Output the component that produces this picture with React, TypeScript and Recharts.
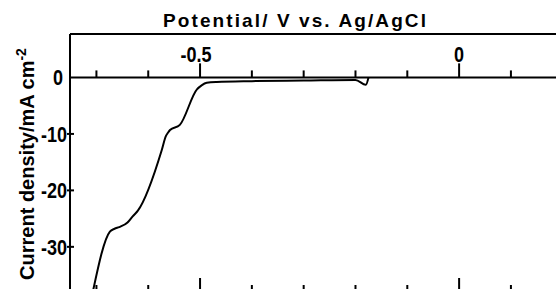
import React from 'react';
import { LineChart, Line, XAxis, YAxis, ReferenceLine } from 'recharts';

// potential (V vs. Ag/AgCl) and current density (mA cm-2)
const potential = [
  -0.707, -0.674, -0.665, -0.656, -0.640, -0.630, -0.620, -0.574, -0.566, -0.562,
  -0.558, -0.539, -0.506, -0.497, -0.487, -0.468, -0.40, -0.30, -0.20, -0.18, -0.175,
];
const current = [
  -38.0, -27.3, -26.8, -26.5, -25.7, -24.6, -23.6, -12.9, -10.4, -9.8,
  -9.3, -8.4, -2.1, -1.4, -0.95, -0.8, -0.65, -0.55, -0.45, -1.3, -0.05,
];

const majorTicks = [-0.5, 0];
const minorTicks = [-0.7, -0.6, -0.4, -0.3, -0.2, -0.1, 0.1];
const allTicks = [-0.7, -0.6, -0.5, -0.4, -0.3, -0.2, -0.1, 0, 0.1];
const yTicks = [0, -10, -20, -30];

const data = potential.map((v, i) => ({ v, j: current[i] }));

const xDomain: [number, number] = [-0.751, 0.187];
const yDomain: [number, number] = [-38, 7.7];

const numFont = "'Liberation Sans', Arial, sans-serif";
const labelFont = "'Liberation Sans', Arial, sans-serif";

// narrow, tall digits like the condensed face in the scan
const NumText = ({ x, y, anchor, children }: any) => (
  <text
    transform={`translate(${x},${y}) scale(0.82,1)`}
    textAnchor={anchor}
    fontFamily={numFont}
    fontWeight="bold"
    fontSize={22}
    fill="#000"
  >
    {children}
  </text>
);

const TopTick = (props: any) => {
  const { x, y, payload } = props;
  // decimal point sits over the tick, so negative labels lean left
  const shift = payload.value < 0 ? -4 : 0;
  return (
    <NumText x={x + shift} y={y + 15} anchor="middle">
      {payload.value === 0 ? '0' : payload.value.toFixed(1)}
    </NumText>
  );
};

const BottomTick = (props: any) => {
  const { x, y, payload } = props;
  const len = majorTicks.includes(payload.value) ? 14 : 7;
  return <line x1={x} x2={x} y1={y} y2={y - len} stroke="#000" strokeWidth={2} />;
};

const LeftTick = (props: any) => {
  const { x, y, payload } = props;
  return (
    <g>
      {payload.value !== 0 && <line x1={x - 3} x2={x + 4} y1={y} y2={y} stroke="#000" strokeWidth={2} />}
      <NumText x={payload.value === 0 ? x - 7 : x - 3} y={y + 8} anchor="end">
        {payload.value === 0 ? '0' : `-${Math.abs(payload.value)}`}
      </NumText>
    </g>
  );
};

export default function App() {
  return (
    <div style={{ position: 'absolute', left: 0, top: 0, width: 556, height: 289, overflow: 'hidden', background: '#fff' }}>
      <div
        style={{
          position: 'absolute', left: 163, top: 10, fontFamily: labelFont, fontWeight: 'bold',
          fontSize: 19, letterSpacing: 2.1, color: '#000', whiteSpace: 'nowrap',
        }}
      >
        Potential/ V vs. Ag/AgCl
      </div>
      <div
        style={{
          position: 'absolute', left: 26, top: 164, transform: 'translate(-50%, -50%) rotate(-90deg)',
          fontFamily: labelFont, fontWeight: 'bold', fontSize: 20, color: '#000', whiteSpace: 'nowrap',
        }}
      >
        Current density/mA cm<sup style={{ fontSize: 14 }}>-2</sup>
      </div>
      <LineChart width={556} height={300} data={data} margin={{ top: 34, right: 0, left: 69, bottom: 8 }}>
        <XAxis
          xAxisId="top"
          orientation="top"
          type="number"
          dataKey="v"
          domain={xDomain}
          allowDataOverflow
          ticks={majorTicks}
          height={1}
          mirror
          tickSize={0}
          tickMargin={13}
          tickLine={false}
          axisLine={{ stroke: '#000', strokeWidth: 2 }}
          tick={TopTick}
        />
        <XAxis
          xAxisId="bottom"
          orientation="bottom"
          type="number"
          dataKey="v"
          domain={xDomain}
          allowDataOverflow
          ticks={allTicks}
          height={1}
          mirror
          tickSize={0}
          tickMargin={0}
          tickLine={false}
          axisLine={{ stroke: '#000', strokeWidth: 2 }}
          tick={BottomTick}
        />
        <YAxis
          type="number"
          domain={yDomain}
          allowDataOverflow
          ticks={yTicks}
          width={1}
          tickSize={0}
          tickMargin={0}
          tickLine={false}
          axisLine={{ stroke: '#000', strokeWidth: 2 }}
          tick={LeftTick}
        />
        <ReferenceLine xAxisId="bottom" y={0} stroke="#000" strokeWidth={2} />
        {minorTicks.map((t) => (
          <ReferenceLine
            key={`mi${t}`}
            xAxisId="bottom"
            segment={[{ x: t, y: 0 }, { x: t, y: 1.25 }]}
            stroke="#000"
            strokeWidth={2}
          />
        ))}
        {majorTicks.map((t) => (
          <ReferenceLine
            key={`ma${t}`}
            xAxisId="bottom"
            segment={[{ x: t, y: 0 }, { x: t, y: 2.5 }]}
            stroke="#000"
            strokeWidth={2}
          />
        ))}
        <Line
          xAxisId="bottom"
          type="monotone"
          dataKey="j"
          stroke="#000"
          strokeWidth={2}
          dot={false}
          isAnimationActive={false}
        />
      </LineChart>
    </div>
  );
}
